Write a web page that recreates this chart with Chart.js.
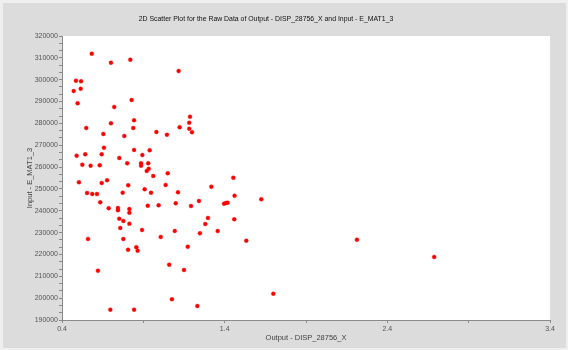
<!DOCTYPE html>
<html>
<head>
<meta charset="utf-8">
<script src="https://cdn.jsdelivr.net/npm/chart.js@4/dist/chart.umd.min.js"></script>
<style>
  body { margin: 0; background: #dcdcdc; }
  #wrap { width: 568px; height: 350px; }
</style>
</head>
<body>
<div id="wrap"><canvas id="scatterChart" width="568" height="350"></canvas></div>
<script>
// sample values: output DISP_28756_X vs input E_MAT1_3
var outputX = [
  0.583, 0.701, 0.820, 0.486, 0.517, 0.472, 0.515, 0.496, 0.828, 0.721,
  0.701, 0.843, 0.549, 0.838, 0.654, 0.783, 0.658, 0.843, 0.939, 0.490,
  0.543, 0.644, 0.752, 0.894, 0.525, 0.576, 0.632, 0.801, 0.886, 0.886,
  0.930, 0.933, 0.921, 1.117, 1.187, 1.182, 1.123, 1.182, 1.199, 0.980,
  1.045, 1.050, 0.504, 0.644, 0.677, 0.807, 0.554, 0.586, 0.615, 0.773,
  0.908, 0.635, 0.687, 0.744, 0.744, 0.814, 0.814, 0.927, 0.752, 0.777,
  0.814, 0.758, 0.892, 0.560, 0.777, 0.806, 0.857, 0.865, 0.621, 0.697,
  0.843, 0.961, 1.453, 1.037, 1.318, 0.947, 1.113, 1.461, 1.625, 0.994,
  1.099, 1.193, 1.242, 1.396, 1.408, 1.418, 1.297, 1.281, 1.459, 1.093,
  1.248, 1.357, 1.007, 1.533, 1.173, 1.059, 1.150, 1.699, 1.076, 1.232,
  2.213, 2.688
];
var inputY = [
  311900, 307780, 309150, 299540, 299270, 294830, 295880, 289200, 290710, 287500,
  280040, 281420, 277890, 277890, 275150, 274230, 268880, 267820, 267680, 265210,
  265850, 265850, 264160, 265530, 261090, 260640, 260820, 261730, 261730, 260640,
  261730, 259260, 258210, 303980, 283060, 280320, 278210, 277570, 275920, 276060,
  274820, 257160, 253040, 252720, 253950, 251670, 248140, 247680, 247680, 248280,
  249830, 243880, 241140, 241280, 240220, 240820, 239120, 242330, 236380, 235330,
  234090, 232120, 231210, 227090, 227090, 222190, 223290, 221730, 212580, 194730,
  194730, 255920, 255140, 251800, 251030, 248280, 248460, 246900, 245260, 242510,
  243430, 242190, 244480, 243240, 243560, 243700, 236700, 233950, 236100, 230750,
  229700, 230750, 228000, 226310, 223560, 215330, 212900, 202050, 199490, 196420,
  226770, 218850
];

// axis tick labels and minor subdivisions between them
var xTickLabels = [0.4, 1.4, 2.4, 3.4];
var xMinorSteps = 2;
var yTickLabels = [190000, 200000, 210000, 220000, 230000, 240000, 250000,
  260000, 270000, 280000, 290000, 300000, 310000, 320000];
var yMinorSteps = 3;

var points = outputX.map(function (x, i) { return { x: x, y: inputY[i] }; });

function withMinor(majors, steps) {
  var out = [];
  for (var i = 0; i < majors.length; i++) {
    out.push({ value: majors[i] });
    if (i < majors.length - 1) {
      var d = (majors[i + 1] - majors[i]) / steps;
      for (var k = 1; k < steps; k++) out.push({ value: majors[i] + d * k });
    }
  }
  return out;
}

function isMajor(v, majors) {
  return majors.some(function (m) { return Math.abs(m - v) < 1e-6 * Math.max(1, Math.abs(m)); });
}

var chartTitle = '2D Scatter Plot for the Raw Data of Output - DISP_28756_X and Input - E_MAT1_3';

// frame, white plot area and the title
var backdrop = {
  id: 'backdrop',
  beforeDraw: function (chart) {
    var c = chart.ctx, a = chart.chartArea;
    c.save();
    c.fillStyle = '#efefef';
    c.fillRect(0, 0, chart.width, chart.height);
    c.fillStyle = '#dcdcdc';
    c.fillRect(3, 3, chart.width - 5, chart.height - 5);
    c.fillStyle = '#ffffff';
    c.fillRect(a.left, a.top, a.right - a.left, a.bottom - a.top);
    c.fillStyle = '#111';
    c.font = '6.9px "Liberation Sans", Arial, sans-serif';
    c.textAlign = 'center';
    c.textBaseline = 'middle';
    c.fillText(chartTitle, 266, 19);
    c.restore();
  }
};

var ctx = document.getElementById('scatterChart').getContext('2d');
var chart = new Chart(ctx, {
  type: 'scatter',
  data: {
    datasets: [{
      data: points,
      backgroundColor: '#ff0000',
      borderColor: 'rgba(255,0,0,0.35)',
      borderWidth: 1,
      pointRadius: 2,
      pointHoverRadius: 2
    }]
  },
  options: {
    responsive: false,
    animation: false,
    layout: { padding: { left: 0, right: 18, top: 36, bottom: 0 } },
    plugins: {
      legend: { display: false },
      tooltip: { enabled: false }
    },
    scales: {
      x: {
        type: 'linear',
        min: 0.4,
        max: 3.4,
        afterBuildTicks: function (s) { s.ticks = withMinor(xTickLabels, xMinorSteps); },
        afterFit: function (s) { s.height = 30; },
        grid: { drawOnChartArea: false, tickLength: 3, color: '#8a8a8a' },
        border: { color: '#8a8a8a', width: 1 },
        ticks: {
          autoSkip: false,
          maxRotation: 0,
          padding: 2,
          color: '#555',
          font: { family: '"Liberation Sans", Arial, sans-serif', size: 7 },
          callback: function (v) { return isMajor(v, xTickLabels) ? v.toFixed(1) : ''; }
        },
        title: {
          display: true,
          text: 'Output - DISP_28756_X',
          color: '#444',
          padding: { top: 0, bottom: 8 },
          font: { family: '"Liberation Sans", Arial, sans-serif', size: 7.5 }
        }
      },
      y: {
        type: 'linear',
        min: 190000,
        max: 320000,
        afterBuildTicks: function (s) { s.ticks = withMinor(yTickLabels, yMinorSteps); },
        afterFit: function (s) { s.width = 62; },
        grid: { drawOnChartArea: false, tickLength: 3, color: '#8a8a8a' },
        border: { color: '#8a8a8a', width: 1 },
        ticks: {
          autoSkip: false,
          padding: 1,
          color: '#555',
          font: { family: '"Liberation Sans", Arial, sans-serif', size: 7 },
          callback: function (v) { return isMajor(v, yTickLabels) ? String(Math.round(v)) : ''; }
        },
        title: {
          display: true,
          text: 'Input - E_MAT1_3',
          color: '#444',
          padding: { top: 25, bottom: 0 },
          font: { family: '"Liberation Sans", Arial, sans-serif', size: 7.5 }
        }
      }
    }
  },
  plugins: [backdrop]
});
</script>
</body>
</html>
